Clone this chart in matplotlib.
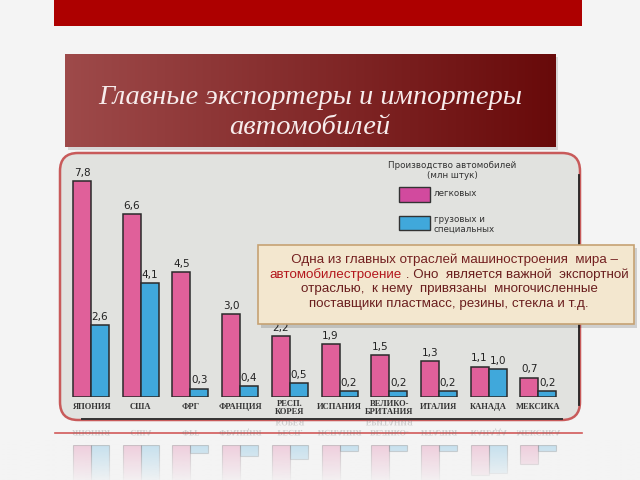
import matplotlib
matplotlib.use("Agg")
import matplotlib.pyplot as plt
import numpy as np
from matplotlib.patches import Rectangle, FancyBboxPatch, PathPatch
from matplotlib.textpath import TextPath
from matplotlib.font_manager import FontProperties

# data (million units)
countries = ["ЯПОНИЯ", "США", "ФРГ", "ФРАНЦИЯ", "РЕСП.\nКОРЕЯ", "ИСПАНИЯ",
             "ВЕЛИКО-\nБРИТАНИЯ", "ИТАЛИЯ", "КАНАДА", "МЕКСИКА"]
cars = [7.8, 6.6, 4.5, 3.0, 2.2, 1.9, 1.5, 1.3, 1.1, 0.7]
trucks = [2.6, 4.1, 0.3, 0.4, 0.5, 0.2, 0.2, 0.2, 1.0, 0.2]

title_lines = ["Главные экспортеры и импортеры", "автомобилей"]
legend_title = ["Производство автомобилей", "(млн штук)"]
legend_cars = "легковых"
legend_trucks = ["грузовых и", "специальных"]
note_lines = ["   Одна из главных отраслей машиностроения  мира –",
              ("автомобилестроение", " . Оно  является важной  экспортной"),
              "отраслью,  к нему  привязаны  многочисленные",
              "поставщики пластмасс, резины, стекла и т.д."]

PINK = "#e0609a"
BLUE = "#40a8db"
EDGE = "#2a2a2a"

W, H = 640, 480
fig = plt.figure(figsize=(6.4, 4.8), dpi=100)
fig.patch.set_facecolor("#f4f4f4")

# pixel-coordinate background axes
bg = fig.add_axes([0, 0, 1, 1], zorder=0)
bg.axis("off")

# red band at the top
bg.add_patch(Rectangle((54, 0), 528, 26, color="#ad0000", lw=0))

# title box with horizontal gradient
bg.add_patch(Rectangle((68, 57), 490, 93, color="#000000", alpha=0.12, lw=0))
c0 = np.array([158, 74, 74]) / 255
c1 = np.array([104, 10, 10]) / 255
t = np.linspace(0, 1, 256)[None, :, None]
grad = c0 * (1 - t) + c1 * t
bg.imshow(grad, extent=(65, 556, 147, 54), aspect="auto", zorder=1)
for line, y in zip(title_lines, [97, 127]):
    bg.text(310, y, line, ha="center", va="center", family="Liberation Serif",
            style="italic", size=20.5, color="#f7ecec", zorder=2)

# scanned chart panel
bg.add_patch(FancyBboxPatch((60, 153), 520, 267, boxstyle="round,pad=0,rounding_size=18",
                            fc="#e1e2df", ec="#c85a5a", lw=1.8, zorder=1))
bg.plot([579, 579], [175, 405], color="#222222", lw=1.3, zorder=2)
bg.plot([82, 562], [419, 419], color="#333333", lw=1.4, zorder=2)
bg.plot([55, 582], [433, 433], color="#d25a5a", lw=1.2, zorder=2)

# legend of the scanned chart
lf = dict(family="DejaVu Sans", size=6.3, color="#333333", zorder=3)
bg.text(452, 165, legend_title[0], ha="center", va="center", **lf)
bg.text(452, 176, legend_title[1], ha="center", va="center", **lf)
bg.add_patch(Rectangle((399, 187), 31, 15, fc="#d24a9e", ec="#333333", lw=1, zorder=3))
bg.add_patch(Rectangle((399, 216), 31, 14, fc=BLUE, ec="#333333", lw=1, zorder=3))
bg.text(434, 194, legend_cars, ha="left", va="center", **lf)
bg.text(434, 219, legend_trucks[0], ha="left", va="center", **lf)
bg.text(434, 229, legend_trucks[1], ha="left", va="center", **lf)

bg.set_xlim(0, W)
bg.set_ylim(H, 0)

# bar geometry in pixels
px_per_unit = 27.7
group_px = 49.7
first_center = 91
base_y = 397
left_px = first_center - group_px / 2
width_px = group_px * len(countries)
bw = 18 / group_px
x = np.arange(len(countries))

ax = fig.add_axes([left_px / W, (H - base_y) / H, width_px / W, 8.5 * px_per_unit / H], zorder=1)
ax.patch.set_alpha(0)
ax.axis("off")
ax.set_xlim(-0.5, len(countries) - 0.5)
ax.set_ylim(0, 8.5)
ax.bar(x - bw / 2, cars, bw, color=PINK, edgecolor=EDGE, lw=1.1)
ax.bar(x + bw / 2, trucks, bw, color=BLUE, edgecolor=EDGE, lw=1.1)
for xi, c, tr in zip(x, cars, trucks):
    ax.text(xi - bw / 2, c + 0.12, f"{c:.1f}".replace(".", ","), ha="center", va="bottom",
            size=7.5, color="#222222")
    ax.text(xi + bw / 2, tr + 0.12, f"{tr:.1f}".replace(".", ","), ha="center", va="bottom",
            size=7.5, color="#222222")
for xi, name in zip(x, countries):
    two = "\n" in name
    ax.text(xi, -0.1 if two else -0.2, name, ha="center", va="top", family="Liberation Serif",
            size=6.1, weight="bold", color="#333333", linespacing=1.1)

# faint reflection below the panel
mirror_y = 421
refl_base = 2 * mirror_y - base_y
rax = fig.add_axes([left_px / W, 0, width_px / W, (H - refl_base) / H], zorder=1)
rax.patch.set_alpha(0)
rax.axis("off")
rax.set_xlim(-0.5, len(countries) - 0.5)
rax.set_ylim((H - refl_base) / px_per_unit, 0)
rax.bar(x - bw / 2, cars, bw, color=PINK, edgecolor="#555555", lw=0.8, alpha=0.28)
rax.bar(x + bw / 2, trucks, bw, color=BLUE, edgecolor="#555555", lw=0.8, alpha=0.28)

top = fig.add_axes([0, 0, 1, 1], zorder=5)
top.patch.set_alpha(0)
top.axis("off")

fp = FontProperties(family="Liberation Serif", weight="bold", size=6.1)
for xi, name in zip(x, countries):
    cx = left_px + (xi + 0.5) * group_px
    for k, part in enumerate(name.split("\n")):
        tp = TextPath((0, 0), part, size=8.3, prop=fp)
        bb = tp.get_extents()
        verts = tp.vertices.copy()
        verts[:, 0] += cx - bb.width / 2
        verts[:, 1] += 2 * mirror_y - 408 - 4 - k * 10
        top.add_patch(PathPatch(matplotlib.path.Path(verts, tp.codes),
                                fc="#777777", ec="none", alpha=0.3))

fade = np.zeros((64, 1, 4))
fade[..., :3] = np.array([244, 244, 244]) / 255
fade[:, 0, 3] = np.linspace(0.0, 0.9, 64)
top.imshow(fade, extent=(0, W, 480, 440), aspect="auto")

# overlay note box
top.add_patch(Rectangle((261, 248), 376, 80, color="#000000", alpha=0.15, lw=0))
top.add_patch(Rectangle((258, 245), 376, 79, fc="#f3e7cf", ec="#c6a273", lw=1.2))
nf = dict(family="Liberation Sans", size=9.6, va="center")
ys = [260, 275, 289, 304]
top.text(449, ys[0], note_lines[0], ha="center", color="#742020", **nf)
top.text(449, ys[2], note_lines[2], ha="center", color="#6a1e1e", **nf)
top.text(449, ys[3], note_lines[3], ha="center", color="#6a1e1e", **nf)
top.set_xlim(0, W)
top.set_ylim(H, 0)

r = fig.canvas.get_renderer()
p1 = top.text(0, ys[1], note_lines[1][0], ha="left", color="#b3161c", **nf)
p2 = top.text(0, ys[1], note_lines[1][1], ha="left", color="#6a1e1e", **nf)
w1 = p1.get_window_extent(r).width
w2 = p2.get_window_extent(r).width
start = 449 - (w1 + w2) / 2
p1.set_x(start)
p2.set_x(start + w1)

fig.savefig("out.png", dpi=100, facecolor=fig.get_facecolor())
